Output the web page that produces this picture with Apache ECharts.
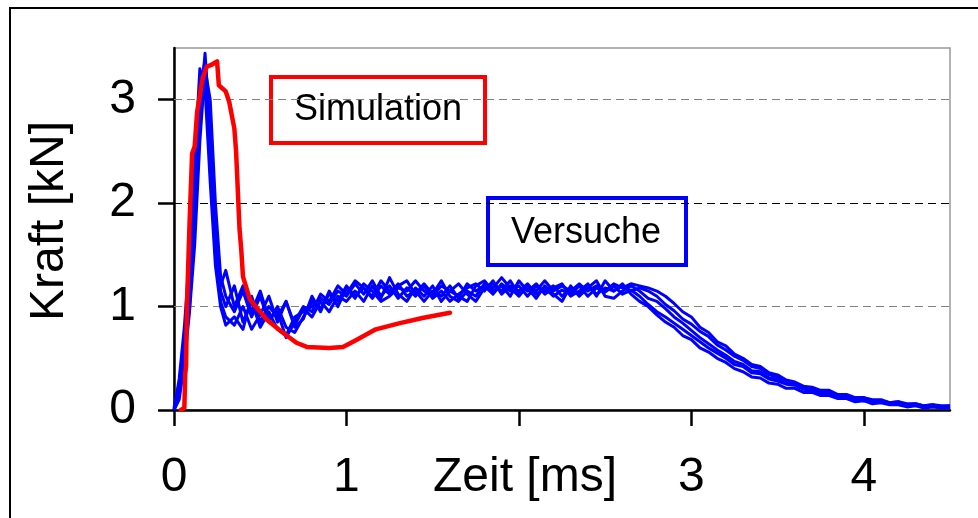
<!DOCTYPE html>
<html>
<head>
<meta charset="utf-8">
<script src="https://cdn.jsdelivr.net/npm/echarts@6/dist/echarts.min.js"></script>
<style>
html,body{margin:0;padding:0;background:#fff;}
#c{width:978px;height:518px;}
</style>
</head>
<body>
<div id="c"></div>
<script>
// ---- data ----
var xTicks = [0, 1, 2, 3, 4];
var xLabels = [0, 1, 3, 4];
var yTicks = [0, 1, 2, 3];

// shared time grid for the experimental curves (ms)
var timeMs = [0,0.03,0.06,0.09,0.12,0.15,0.18,0.21,0.24,0.27,0.30,
  0.35,0.40,0.45,0.50,0.55,0.60,0.65,0.70,0.75,0.80,0.85,0.90,0.95,1.00,
  1.05,1.10,1.15,1.20,1.25,1.30,1.35,1.40,1.45,1.50,1.55,1.60,1.65,1.70,1.75,
  1.80,1.85,1.90,1.95,2.00,2.05,2.10,2.15,2.20,2.25,2.30,2.35,2.40,2.45,2.50,
  2.55,2.60,2.65,2.70,2.75,2.80,
  2.85,2.90,2.95,3.00,3.05,3.10,3.15,3.20,3.25,3.30,3.35,3.40,3.45,3.50,3.55,3.60,3.65,
  3.70,3.75,3.80,3.85,3.90,3.95,4.00,4.05,4.10,4.15,4.20,4.25,4.30,4.35,4.40,4.45,4.50];

var versuchA = [0,0.15,0.55,1.0,1.75,2.85,3.45,2.7,1.8,1.15,1.0,
  1.2,0.85,1.05,0.8,0.95,0.78,0.72,0.9,0.95,1.0,1.08,1.02,1.15,1.1,
  1.22,1.12,1.25,1.1,1.2,1.08,1.18,1.1,1.2,1.08,1.15,1.05,1.12,1.18,1.22,
  1.15,1.25,1.12,1.2,1.15,1.22,1.12,1.18,1.1,1.16,1.12,1.2,1.1,1.18,1.14,
  1.2,1.12,1.16,1.1,1.02,0.95,
  0.9,0.84,0.78,0.72,0.66,0.6,0.55,0.5,0.44,0.42,0.36,0.35,0.3,0.28,0.25,0.24,0.2,
  0.19,0.16,0.15,0.12,0.13,0.1,0.09,0.08,0.09,0.06,0.06,0.04,0.05,0.03,0.04,0.02,0.03];

var versuchB = [0,0.1,0.45,0.95,1.6,2.6,3.3,3.0,2.0,1.3,1.1,
  0.95,1.15,0.9,1.1,0.85,1.0,0.8,0.75,0.9,1.05,0.98,1.12,1.05,1.2,
  1.1,1.18,1.08,1.2,1.12,1.22,1.1,1.15,1.05,1.15,1.1,1.2,1.08,1.22,1.15,
  1.2,1.12,1.22,1.15,1.2,1.1,1.2,1.15,1.2,1.1,1.18,1.12,1.2,1.12,1.18,
  1.15,1.2,1.15,1.18,1.15,1.1,
  1.02,0.96,0.88,0.83,0.76,0.71,0.63,0.58,0.52,0.48,0.42,0.4,0.34,0.32,0.27,0.26,0.22,
  0.21,0.18,0.18,0.14,0.14,0.11,0.12,0.09,0.09,0.07,0.08,0.05,0.06,0.04,0.05,0.03,0.04];

var versuchC = [0,0.2,0.6,1.1,1.9,2.8,3.2,2.5,1.6,1.05,0.9,
  0.82,1.0,0.78,0.92,1.1,0.85,1.05,0.82,0.98,0.9,1.05,0.95,1.1,1.05,
  1.15,1.05,1.2,1.08,1.28,1.12,1.05,1.18,1.1,1.2,1.05,1.15,1.1,1.05,1.2,
  1.25,1.15,1.2,1.1,1.25,1.15,1.22,1.12,1.18,1.22,1.1,1.15,1.22,1.1,1.25,
  1.15,1.22,1.12,1.05,1.0,0.92,
  0.85,0.8,0.72,0.68,0.6,0.56,0.5,0.46,0.4,0.37,0.32,0.31,0.26,0.25,0.21,0.21,0.17,
  0.17,0.14,0.14,0.11,0.11,0.08,0.09,0.06,0.07,0.05,0.05,0.03,0.04,0.02,0.03,0.02,0.02];

var versuchD = [0.02,0.25,0.7,1.3,2.2,3.1,3.38,2.4,1.5,1.2,1.35,
  1.0,1.2,0.95,1.15,0.88,0.95,0.7,0.85,1.0,0.95,1.12,1.05,1.2,1.12,
  1.25,1.18,1.1,1.25,1.15,1.2,1.25,1.12,1.22,1.12,1.25,1.1,1.05,1.15,1.1,
  1.22,1.18,1.28,1.18,1.1,1.2,1.15,1.25,1.15,1.2,1.15,1.22,1.15,1.2,1.15,
  1.22,1.18,1.22,1.2,1.18,1.15,
  1.1,1.03,0.95,0.9,0.8,0.75,0.66,0.62,0.54,0.5,0.44,0.42,0.36,0.34,0.29,0.27,0.23,
  0.22,0.19,0.19,0.15,0.15,0.12,0.12,0.1,0.1,0.07,0.08,0.06,0.06,0.04,0.05,0.04,0.04];

var versuchE = [0,0.3,0.8,1.5,2.4,3.3,3.1,2.2,1.4,1.0,0.82,
  0.9,0.78,1.1,0.85,1.0,0.9,1.05,0.8,0.88,1.1,0.95,1.15,1.0,1.18,
  1.08,1.22,1.15,1.05,1.1,1.18,1.15,1.25,1.15,1.1,1.2,1.15,1.22,1.12,1.05,
  1.18,1.22,1.15,1.25,1.12,1.18,1.08,1.2,1.12,1.05,1.2,1.1,1.18,1.25,1.1,
  1.08,1.15,1.2,1.15,1.08,1.05,
  0.98,0.9,0.84,0.77,0.7,0.64,0.58,0.53,0.47,0.44,0.38,0.37,0.31,0.3,0.26,0.25,0.21,
  0.2,0.16,0.16,0.13,0.12,0.1,0.1,0.07,0.08,0.06,0.06,0.04,0.05,0.03,0.04,0.03,0.03];

var simTime  = [0.04,0.06,0.065,0.07,0.075,0.09,0.105,0.12,0.134,0.165,0.19,0.22,0.25,0.26,0.3,0.32,0.35,0.36,0.38,0.39,0.40,0.44,0.54,0.63,0.71,0.77,0.90,0.98,1.06,1.17,1.31,1.44,1.60];
var simForce = [0,0.02,0.35,0.42,1.0,1.8,2.48,2.55,2.88,3.2,3.32,3.34,3.37,3.14,3.08,2.98,2.72,2.5,1.75,1.55,1.29,1.07,0.87,0.75,0.65,0.61,0.6,0.61,0.68,0.78,0.84,0.89,0.94];

// ---- chart ----
var FONT = 'Liberation Sans';
var blue = '#0000ff', red = '#ff0000';
var X_MAX = 4.5, Y_MAX = 3.5;
var G_LEFT = 174, G_TOP = 48, G_RIGHT = 28, G_BOTTOM = 108, W = 978, H = 518;
var plotW = W - G_LEFT - G_RIGHT, plotH = H - G_TOP - G_BOTTOM;
var xTickMax = xTicks[xTicks.length - 1], yTickMax = yTicks[yTicks.length - 1];
function zip(xs, ys){ return xs.map(function(x,i){ return [x, ys[i]]; }); }
function inList(list, v){ for (var i = 0; i < list.length; i++) { if (Math.abs(list[i] - v) < 1e-9) return true; } return false; }

var versuche = [versuchA, versuchB, versuchC, versuchD, versuchE];
var series = versuche.map(function(v){
  return {type:'line', xAxisIndex:0, yAxisIndex:0, data: zip(timeMs, v), showSymbol:false, symbol:'none',
    lineStyle:{color:blue, width:3, join:'round'}, z:2};
});
series.push({type:'line', xAxisIndex:0, yAxisIndex:0, data: zip(simTime, simForce), showSymbol:false, symbol:'none',
  lineStyle:{color:red, width:4.5, join:'round', cap:'round'}, z:3,
  markLine:{silent:true, symbol:'none', z:1, label:{show:false},
    data:[
      {yAxis:1, lineStyle:{color:'#808080', type:[8,5], width:1.2}},
      {yAxis:2, lineStyle:{color:'#000000', type:[8,5], width:1.2}},
      {yAxis:3, lineStyle:{color:'#808080', type:[8,5], width:1.2}}
    ]}
});

var tickStyle = {show:true, inside:false, length:16, lineStyle:{color:'#000', width:2.5}};

var chart = echarts.init(document.getElementById('c'), null, {renderer:'canvas'});
chart.setOption({
  animation:false,
  backgroundColor:'#fff',
  grid:[
    {left:G_LEFT, top:G_TOP, right:G_RIGHT, bottom:G_BOTTOM, show:true, borderColor:'#999', borderWidth:1.5,
      containLabel:false, outerBoundsMode:'none'},
    // companion grid spanning exactly the ticked range (0..4 ms, 0..3 kN) so the axes draw only those ticks
    {left:G_LEFT, bottom:G_BOTTOM,
      width: plotW * xTickMax / X_MAX, height: plotH * yTickMax / Y_MAX,
      show:false, containLabel:false, outerBoundsMode:'none'}
  ],
  xAxis:[
    {type:'value', gridIndex:0, min:0, max:X_MAX, interval:1,
      axisLine:{show:true, lineStyle:{color:'#000', width:2.5}},
      axisTick:{show:false},
      axisLabel:{show:true, margin:44, color:'#000', fontSize:48, fontFamily:FONT,
        formatter:function(v){ return inList(xLabels, v) ? String(v) : ''; }},
      splitLine:{show:false}},
    {type:'value', gridIndex:1, min:0, max:xTickMax, interval:1, position:'bottom',
      axisLine:{show:false}, axisTick:tickStyle, axisLabel:{show:false}, splitLine:{show:false}}
  ],
  yAxis:[
    {type:'value', gridIndex:0, min:0, max:Y_MAX, interval:1,
      axisLine:{show:true, lineStyle:{color:'#000', width:2.5}},
      axisTick:{show:false},
      axisLabel:{show:true, margin:38, color:'#000', fontSize:48, fontFamily:FONT,
        formatter:function(v){ return inList(yTicks, v) ? String(v) : ''; }},
      splitLine:{show:false}},
    {type:'value', gridIndex:1, min:0, max:yTickMax, interval:1, position:'left',
      axisLine:{show:false}, axisTick:tickStyle, axisLabel:{show:false}, splitLine:{show:false}}
  ],
  graphic:[
    {type:'rect', shape:{x:10, y:8, width:1000, height:600}, style:{fill:'none', stroke:'#000', lineWidth:2}},
    {type:'rect', shape:{x:271, y:77, width:214, height:66}, style:{fill:'none', stroke:red, lineWidth:4}},
    {type:'text', x:378, y:110, style:{text:'Simulation', fontSize:36, fontFamily:FONT, fill:'#000', align:'center', verticalAlign:'middle'}},
    {type:'rect', shape:{x:488, y:198, width:198, height:67}, style:{fill:'none', stroke:blue, lineWidth:4}},
    {type:'text', x:586, y:233, style:{text:'Versuche', fontSize:36, fontFamily:FONT, fill:'#000', align:'center', verticalAlign:'middle'}},
    {type:'text', x:525, y:478, style:{text:'Zeit [ms]', fontSize:48, fontFamily:FONT, fill:'#000', align:'center', verticalAlign:'middle'}},
    {type:'text', x:50, y:221, rotation:Math.PI/2, style:{text:'Kraft [kN]', fontSize:48, fontFamily:FONT, fill:'#000', align:'center', verticalAlign:'middle'}}
  ],
  series: series
});
</script>
</body>
</html>
